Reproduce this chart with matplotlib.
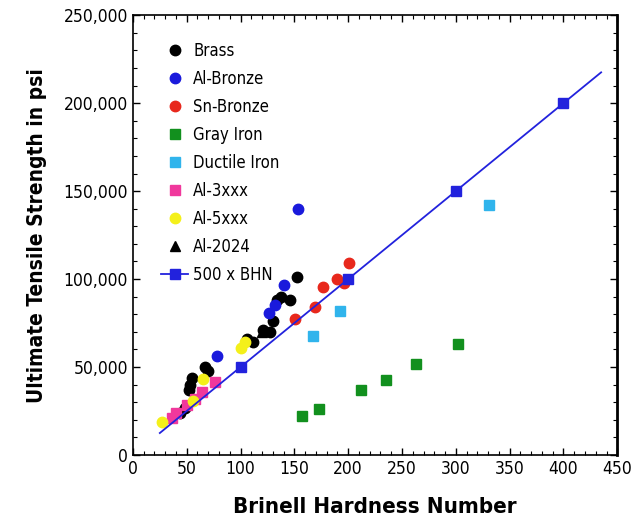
import matplotlib.pyplot as plt
from matplotlib.ticker import MultipleLocator, FuncFormatter

plt.rcParams['font.family'] = ['DejaVu Sans']
plt.rcParams['font.stretch'] = 'condensed'

# data (BHN, UTS psi)
brass_bhn = [44, 48, 52, 53, 55, 67, 70, 106, 112, 121, 127, 130, 134, 138, 146, 152]
brass_uts = [24000, 27000, 37000, 40000, 44000, 50000, 48000, 66000, 64500, 71000, 70000, 76000, 88000, 90000, 88000, 101000]

albronze_bhn = [78, 126, 132, 140, 153]
albronze_uts = [56000, 80500, 85000, 96500, 140000]

snbronze_bhn = [151, 169, 177, 190, 196, 201]
snbronze_uts = [77500, 84000, 95500, 100000, 98000, 109000]

gray_bhn = [157, 173, 212, 235, 263, 302]
gray_uts = [22000, 26000, 37000, 42500, 52000, 63000]

ductile_bhn = [167, 192, 331]
ductile_uts = [67500, 82000, 142000]

al3_bhn = [36, 40, 50, 58, 64, 76]
al3_uts = [21000, 24000, 28500, 32000, 36000, 41500]

al5_bhn = [27, 56, 65, 100, 104]
al5_uts = [18500, 30500, 43000, 61000, 64000]

al2024_bhn = [120]
al2024_uts = [70000]

line_bhn = [25, 100, 200, 300, 400, 435]
line_uts = [500 * b for b in line_bhn]
line_marks = [1, 2, 3, 4]

fig = plt.figure(figsize=(6.39, 5.23), dpi=100)
ax = fig.add_axes([0.208, 0.130, 0.758, 0.841])

ms = 7.5
ax.plot(brass_bhn, brass_uts, 'o', color='black', ms=ms, label='Brass')
ax.plot(albronze_bhn, albronze_uts, 'o', color='#1a1adc', ms=ms, label='Al-Bronze')
ax.plot(snbronze_bhn, snbronze_uts, 'o', color='#e8281c', ms=ms, label='Sn-Bronze')
ax.plot(gray_bhn, gray_uts, 's', color='#12901e', ms=7, label='Gray Iron')
ax.plot(ductile_bhn, ductile_uts, 's', color='#30b4ec', ms=7, label='Ductile Iron')
ax.plot(al3_bhn, al3_uts, 's', color='#f0389c', ms=7, label='Al-3xxx')
ax.plot(al5_bhn, al5_uts, 'o', color='#f4f01a', ms=ms, label='Al-5xxx')
ax.plot(al2024_bhn, al2024_uts, '^', color='black', ms=ms, label='Al-2024')
ax.plot(line_bhn, line_uts, '-s', color='#2222dd', lw=1.3, ms=7,
        markevery=line_marks, label='500 x BHN')

ax.set_xlim(0, 450)
ax.set_ylim(0, 250000)
ax.xaxis.set_major_locator(MultipleLocator(50))
ax.xaxis.set_minor_locator(MultipleLocator(10))
ax.yaxis.set_major_locator(MultipleLocator(50000))
ax.yaxis.set_minor_locator(MultipleLocator(10000))
ax.yaxis.set_major_formatter(FuncFormatter(lambda v, p: f"{int(v):,}"))
ax.tick_params(which='both', direction='in', top=True, right=True, labelsize=12.5)
ax.tick_params(which='major', length=5, width=1)
ax.tick_params(which='minor', length=3, width=0.8)
for s in ax.spines.values():
    s.set_linewidth(1.2)
ax.spines['right'].set_linewidth(2)

ax.set_xlabel('Brinell Hardness Number', fontsize=16, fontweight='bold', labelpad=14)
ax.set_ylabel('Ultimate Tensile Strength in psi', fontsize=15, fontweight='bold', labelpad=12)

ax.legend(loc='upper left', frameon=False, fontsize=12, handlelength=1.6,
          handletextpad=0.3, labelspacing=0.6, borderaxespad=0.0,
          bbox_to_anchor=(0.045, 0.955))

fig.savefig('out.png', dpi=100)
